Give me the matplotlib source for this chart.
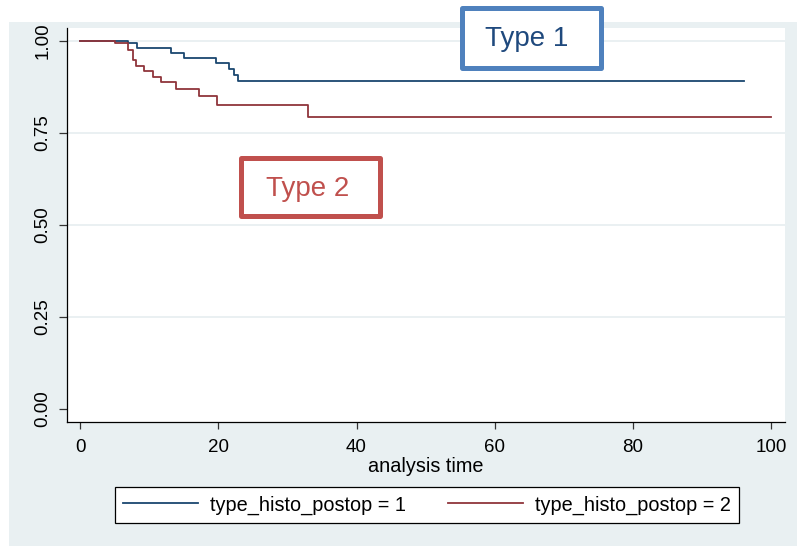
import numpy as np
import matplotlib.pyplot as plt
from matplotlib.patches import Rectangle

plt.rcParams['font.family'] = ['Liberation Sans', 'DejaVu Sans']

W, H = 797, 546

# Kaplan-Meier steps
t_type1 = [0, 6.9, 8.2, 13.2, 15.05, 19.6, 21.5, 22.3, 22.8, 96]
s_type1 = [1.0, 0.993, 0.980, 0.968, 0.954, 0.940, 0.924, 0.908, 0.891, 0.891]

t_type2 = [0, 5.1, 6.95, 7.7, 8.1, 9.2, 10.5, 11.7, 13.9, 17.2, 19.8, 33.0, 100]
s_type2 = [1.0, 0.993, 0.974, 0.948, 0.933, 0.918, 0.903, 0.889, 0.870, 0.850, 0.825, 0.792, 0.792]

labels = ["type_histo_postop = 1", "type_histo_postop = 2"]
xticks = [0, 20, 40, 60, 80, 100]
yticks = [0.0, 0.25, 0.5, 0.75, 1.0]
ytick_labels = ["0.00", "0.25", "0.50", "0.75", "1.00"]

blue = "#1a476f"
red = "#90353b"
bg = "#e9f0f2"


def px_box(x0, y0, x1, y1):
    # pixel box (top-left origin) -> figure fraction rect
    return (x0 / W, 1 - y1 / H), (x1 - x0) / W, (y1 - y0) / H


fig = plt.figure(figsize=(W / 100, H / 100), dpi=100, facecolor="white")
xy, w, h = px_box(9, 22, 797, 546)
fig.add_artist(Rectangle(xy, w, h, transform=fig.transFigure,
                         facecolor=bg, edgecolor="none", zorder=-1))

ax = fig.add_axes([67 / W, 1 - 422 / H, (785 - 67) / W, (422 - 28) / H])
ax.set_facecolor("white")

ax.step(t_type1, s_type1, where="post", color=blue, lw=1.3, label=labels[0], zorder=3)
ax.step(t_type2, s_type2, where="post", color=red, lw=1.3, label=labels[1], zorder=3)

ax.set_xlim(-1.9, 102)
ax.set_ylim(-0.035, 1.035)
ax.set_xticks(xticks)
ax.set_yticks(yticks)
ax.set_yticklabels(ytick_labels)
for yv in yticks[1:]:
    ax.axhline(yv, color="#e6eef0", lw=1.2, zorder=1)

for side in ["top", "right"]:
    ax.spines[side].set_visible(False)
ax.spines["left"].set_color("black")
ax.spines["bottom"].set_color("black")
ax.spines["left"].set_linewidth(0.9)
ax.spines["bottom"].set_linewidth(0.9)

ax.tick_params(axis="x", length=5, width=0.9, color="#333333", pad=7, labelsize=13.5)
ax.tick_params(axis="y", length=6, width=0.9, color="#333333", pad=5, labelsize=13.5)
plt.setp(ax.get_yticklabels(), rotation=90, va="center")
ax.set_xlabel("analysis time", fontsize=14.3, labelpad=1)

leg = fig.legend(loc="center", bbox_to_anchor=(427 / W, 1 - 505 / H), ncol=2,
                 fontsize=14.3, frameon=True, fancybox=False, handlelength=3.8,
                 handletextpad=0.6, columnspacing=2.1, borderpad=0.4,
                 framealpha=1, facecolor="white")
leg.get_frame().set_edgecolor("black")
leg.get_frame().set_linewidth(0.9)

# annotation boxes
for text, box, edge, tcol, center in [
    ("Type 1", (461.5, 8.5, 600.5, 67.5), "#4f81bd", "#1f497d", (527, 39)),
    ("Type 2", (240.5, 158.5, 379.5, 216.5), "#c0504d", "#c0504d", (307.5, 189)),
]:
    xy, w, h = px_box(*box)
    fig.add_artist(Rectangle(xy, w, h, transform=fig.transFigure, facecolor="white",
                             edgecolor=edge, lw=3.6, joinstyle="round", zorder=5))
    fig.text(center[0] / W, 1 - center[1] / H, text, fontsize=20, color=tcol,
             ha="center", va="center", zorder=6)

fig.savefig("out.png", dpi=100)
